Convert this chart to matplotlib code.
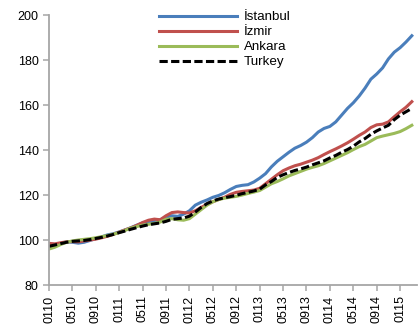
import matplotlib
matplotlib.use('Agg')
import matplotlib.pyplot as plt

plt.rcParams['font.family'] = ['Liberation Sans', 'DejaVu Sans']

tick_labels = ['0110', '0510', '0910', '0111', '0511', '0911', '0112', '0512',
               '0912', '0113', '0513', '0913', '0114', '0514', '0914', '0115']

istanbul = [97.5, 97.7, 98.5, 99.2, 99.0, 98.6, 99.0, 99.8, 100.6, 101.4,
            102.3, 102.8, 103.6, 104.5, 105.5, 106.6, 107.6, 108.0, 108.3, 109.0,
            110.2, 110.8, 110.5, 111.5, 113.0, 115.5, 116.8, 117.8, 119.0, 119.8,
            121.0, 122.5, 123.8, 124.3, 124.6, 125.8, 127.5, 129.5, 132.5, 135.0,
            137.0, 139.0, 140.8, 142.0, 143.5, 145.5, 148.0, 149.6, 150.5, 152.5,
            155.5, 158.5, 161.0, 164.0, 167.5, 171.5, 173.8, 176.5, 180.5, 183.5,
            185.5, 188.0, 190.8]
izmir = [98.5, 98.3, 98.8, 99.2, 99.3, 99.2, 99.6, 100.0, 100.4, 101.0,
         101.7, 102.5, 103.5, 104.5, 105.4, 106.5, 107.8, 108.8, 109.3, 109.0,
         110.8, 112.2, 112.5, 112.2, 112.0, 113.0, 114.5, 115.8, 117.0, 118.0,
         119.0, 120.3, 121.2, 121.6, 121.9, 122.2, 123.0, 125.0, 127.0, 129.0,
         130.8, 132.0, 133.0, 133.7, 134.6, 135.5, 136.6, 138.0, 139.3, 140.5,
         141.8, 143.2, 144.8, 146.5, 148.0, 150.0, 151.2, 151.5, 152.5, 154.8,
         157.0, 159.0, 161.5]
ankara = [96.0, 96.8, 98.0, 99.0, 99.6, 100.0, 100.3, 100.6, 101.0, 101.5,
          102.0, 102.6, 103.3, 104.3, 105.3, 106.0, 106.6, 107.0, 107.4, 108.0,
          109.2, 109.5, 109.0, 108.8, 109.5, 111.5, 113.5, 115.5, 117.0, 118.0,
          118.6, 119.0, 119.4, 120.0, 120.7, 121.3, 122.0, 123.5, 125.0, 126.0,
          127.2, 128.5, 129.5, 130.5, 131.5, 132.3, 133.0, 134.0, 135.2, 136.4,
          137.6, 138.8, 140.2, 141.5, 142.5, 144.0, 145.5, 146.2, 146.8, 147.4,
          148.2, 149.5, 151.0]
turkey = [97.2, 97.8, 98.4, 99.0, 99.4, 99.6, 99.8, 100.2, 100.7, 101.2,
          101.8, 102.5, 103.3, 104.0, 104.8, 105.5, 106.2, 106.8, 107.2, 107.6,
          108.3, 109.2, 109.5, 109.8, 110.6, 112.4, 114.5, 116.2, 117.4, 118.2,
          118.8, 119.3, 119.9, 120.6, 121.2, 121.8, 122.6, 124.5, 126.0, 127.8,
          129.0, 130.0, 130.9, 131.6, 132.4, 133.4, 134.3, 135.2, 136.5, 137.6,
          139.0, 140.2, 141.7, 143.6, 145.1, 147.0, 148.5, 149.8, 151.0, 153.5,
          155.5, 157.0, 158.5]

months = list(range(len(turkey)))
gray = '#a6a6a6'

fig = plt.figure(figsize=(4.2, 3.27), dpi=100)
ax = fig.add_axes([0.1167, 0.1284, 0.875, 0.8256])

ax.plot(months, istanbul, color='#4a7ebb', lw=2.2, label='İstanbul')
ax.plot(months, izmir, color='#c0504d', lw=2.2, label='İzmir')
ax.plot(months, ankara, color='#9bbb59', lw=2.2, label='Ankara')
ax.plot(months, turkey, color='black', lw=2.2, ls=(0, (2.7, 1.1)), label='Turkey')

ax.set_xlim(0, 62.8)
ax.set_ylim(80, 200)
ax.set_yticks(range(80, 201, 20))
ax.set_xticks(range(0, 61, 4))
ax.set_xticklabels(tick_labels, rotation=90)

for s in ['top', 'right']:
    ax.spines[s].set_visible(False)
for s in ['left', 'bottom']:
    ax.spines[s].set_color(gray)
    ax.spines[s].set_linewidth(1.3)
ax.tick_params(colors=gray, labelcolor='black', labelsize=9, length=4, width=1.1)

ax.legend(loc='upper left', bbox_to_anchor=(0.28, 1.04), frameon=False,
          fontsize=9.6, handlelength=5.85, handletextpad=0.52, labelspacing=0.2,
          borderpad=0)

fig.savefig('out.png', dpi=100)
